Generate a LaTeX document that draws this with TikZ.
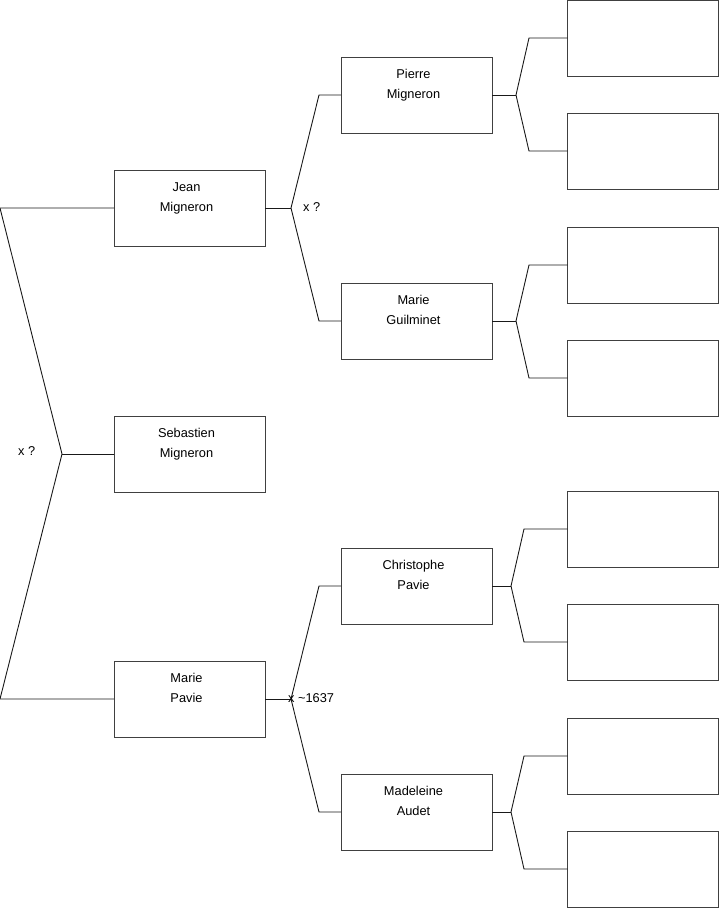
\documentclass[tikz,border=0pt]{standalone}
\usepackage{fontspec}
\setmainfont{Liberation Sans}
\begin{document}
\begin{tikzpicture}[x=1pt,y=-1pt,
  box/.style={draw=black!75,line width=0.9pt,minimum width=151pt,minimum height=76pt,inner sep=0pt,outer sep=0pt},
  txt/.style={font=\fontsize{12.8}{20}\selectfont,align=center,anchor=base,inner sep=0pt},
  lbl/.style={font=\fontsize{12.8}{14}\selectfont,anchor=west,inner sep=0pt},
  conn/.style={draw=black!90,line width=0.9pt}]
\useasboundingbox (0,0) rectangle (719,908);
% level 1
\node[box] (jean) at (189.5,208) {};
\node[box] (seb) at (189.5,454) {};
\node[box] (mpav) at (189.5,699) {};
% level 2
\node[box] (pierre) at (416.5,95) {};
\node[box] (mguil) at (416.5,321) {};
\node[box] (chris) at (416.5,586) {};
\node[box] (made) at (416.5,812) {};
% level 3
\node[box] (a1) at (643,38) {};
\node[box] (a2) at (643,151) {};
\node[box] (a3) at (643,265) {};
\node[box] (a4) at (643,378) {};
\node[box] (a5) at (643,529) {};
\node[box] (a6) at (643,642) {};
\node[box] (a7) at (643,756) {};
\node[box] (a8) at (643,869) {};
% texts
\node[txt] (jeant) at ([xshift=-3pt,yshift=-3pt]jean.center) {Jean\\Migneron};
\node[txt] (sebt) at ([xshift=-3pt,yshift=-3pt]seb.center) {Sebastien\\Migneron};
\node[txt] (mpavt) at ([xshift=-3pt,yshift=-3pt]mpav.center) {Marie\\Pavie};
\node[txt] (pierret) at ([xshift=-3pt,yshift=-3pt]pierre.center) {Pierre\\Migneron};
\node[txt] (mguilt) at ([xshift=-3pt,yshift=-3pt]mguil.center) {Marie\\Guilminet};
\node[txt] (christ) at ([xshift=-3pt,yshift=-3pt]chris.center) {Christophe\\Pavie};
\node[txt] (madet) at ([xshift=-3pt,yshift=-3pt]made.center) {Madeleine\\Audet};
% left bracket
\coordinate (l0) at (0,208);
\coordinate (lm) at (62,454);
\coordinate (l2) at (0,699);
\draw[conn] (jean.west) -- (l0) -- (lm) -- (l2) -- (mpav.west);
\draw[conn] (lm) -- (seb.west);
\node[lbl] (lx) at (18,451) {x ?};
% Jean bracket
\coordinate (jv) at (291,208);
\coordinate (jt) at (319,95);
\coordinate (jb) at (319,321);
\draw[conn] (pierre.west) -- (jt) -- (jv) -- (jb) -- (mguil.west);
\draw[conn] (jean.east) -- (jv);
\node[lbl] (jx) at (303,207) {x ?};
% Marie Pavie bracket
\coordinate (mv) at (291,699);
\coordinate (mt) at (319,586);
\coordinate (mb) at (319,812);
\draw[conn] (chris.west) -- (mt) -- (mv) -- (mb) -- (made.west);
\draw[conn] (mpav.east) -- (mv);
\node[lbl] (mx) at (288,698) {x \textasciitilde 1637};
% Pierre bracket
\coordinate (pv) at (516,95);
\coordinate (pt) at (529,38);
\coordinate (pb) at (529,151);
\draw[conn] (a1.west) -- (pt) -- (pv) -- (pb) -- (a2.west);
\draw[conn] (pierre.east) -- (pv);
% Guilminet bracket
\coordinate (gv) at (516,321);
\coordinate (gt) at (529,265);
\coordinate (gb) at (529,378);
\draw[conn] (a3.west) -- (gt) -- (gv) -- (gb) -- (a4.west);
\draw[conn] (mguil.east) -- (gv);
% Christophe bracket
\coordinate (cv) at (511,586);
\coordinate (ct) at (524,529);
\coordinate (cb) at (524,642);
\draw[conn] (a5.west) -- (ct) -- (cv) -- (cb) -- (a6.west);
\draw[conn] (chris.east) -- (cv);
% Madeleine bracket
\coordinate (dv) at (511,812);
\coordinate (dt) at (524,756);
\coordinate (db) at (524,869);
\draw[conn] (a7.west) -- (dt) -- (dv) -- (db) -- (a8.west);
\draw[conn] (made.east) -- (dv);
\end{tikzpicture}
\end{document}
